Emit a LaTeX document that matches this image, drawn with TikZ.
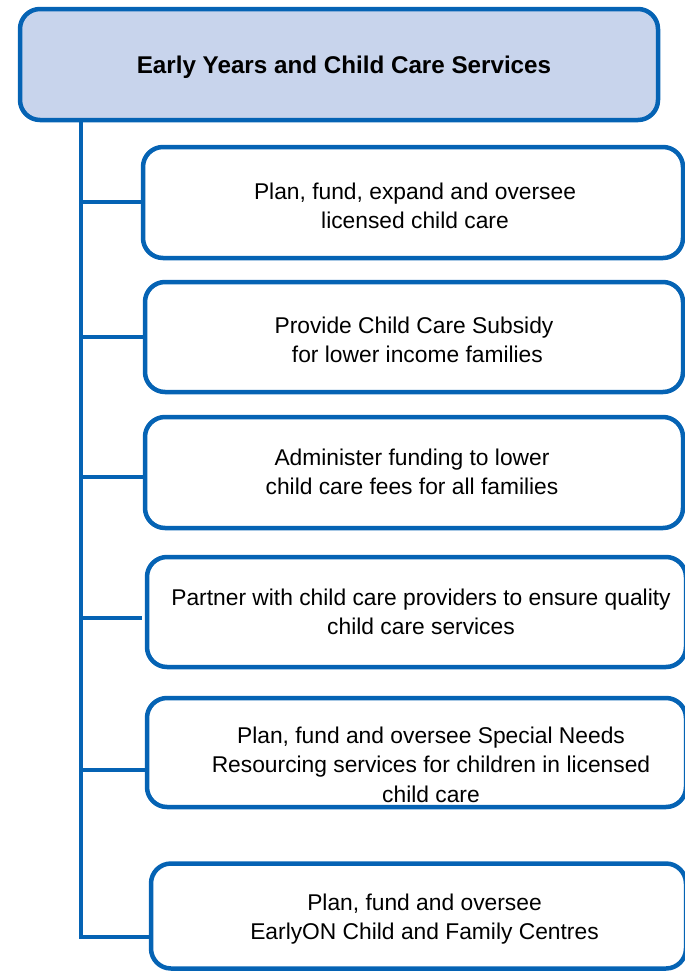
\documentclass[tikz,border=0pt]{standalone}
\usepackage{fontspec}
\setmainfont{Liberation Sans}
\definecolor{bline}{RGB}{5,99,180}
\definecolor{tfill}{RGB}{200,212,236}
\begin{document}
\begin{tikzpicture}[x=1pt,y=-1pt,
  box/.style={draw=bline,line width=4.5pt,rounded corners=20pt,rectangle,inner sep=0pt,outer sep=0pt,fill=white},
  titlebox/.style={box,fill=tfill},
  txt/.style={align=center,inner sep=0pt,font=\fontsize{22.8}{29.5}\selectfont},
  conn/.style={draw=bline,line width=4pt}]
\useasboundingbox (0,0) rectangle (685,972);
\begin{scope}
\clip (0,0) rectangle (685,972);
\node[titlebox,minimum width=638pt,minimum height=111pt] (title) at (339,64.5) {};
\node[box,minimum width=540pt,minimum height=111pt] (b1) at (413,202.5) {};
\node[box,minimum width=538pt,minimum height=110pt] (b2) at (414,337) {};
\node[box,minimum width=538pt,minimum height=111pt] (b3) at (414,472.5) {};
\node[box,minimum width=539pt,minimum height=110pt] (b4) at (416.5,612) {};
\node[box,minimum width=539pt,minimum height=109pt] (b5) at (416.5,752.5) {};
\node[box,minimum width=535pt,minimum height=105pt] (b6) at (418.5,916) {};
\coordinate (top) at (81,120);
\coordinate (j1) at (81,202);
\coordinate (j2) at (81,337);
\coordinate (j3) at (81,477);
\coordinate (j4) at (81,618);
\coordinate (j5) at (81,770);
\coordinate (j6) at (81,937);
\coordinate (e4) at (142,618);
\draw[conn] (top) -- ([yshift=-2pt]j6) ;
\draw[conn] ([xshift=-2pt]j6) -- (b6.west |- j6);
\draw[conn] (j1) -- (b1.west |- j1);
\draw[conn] (j2) -- (b2.west |- j2);
\draw[conn] (j3) -- (b3.west |- j3);
\draw[conn] (j4) -- (e4);
\draw[conn] (j5) -- (b5.west |- j5);
\node[txt,font=\fontsize{24.2}{29}\selectfont\bfseries] (tt) at (344,67.5) {Early Years and Child Care Services};
\node[txt] (t1) at (415,206) {Plan, fund, expand and oversee\\licensed child care};
\node[txt] (t2) at (414,340) {Provide Child Care Subsidy\\\hspace*{0.3em}for lower income families};
\node[txt] (t3) at (412,472) {Administer funding to lower\\child care fees for all families};
\node[txt] (t4) at (421,612) {Partner with child care providers to ensure quality\\child care services};
\node[txt] (t5) at (431,764.5) {Plan, fund and oversee Special Needs\\Resourcing services for children in licensed\\child care};
\node[txt] (t6) at (424.5,919) {Plan, fund and oversee\\EarlyON Child and Family Centres};
\end{scope}
\end{tikzpicture}
\end{document}
